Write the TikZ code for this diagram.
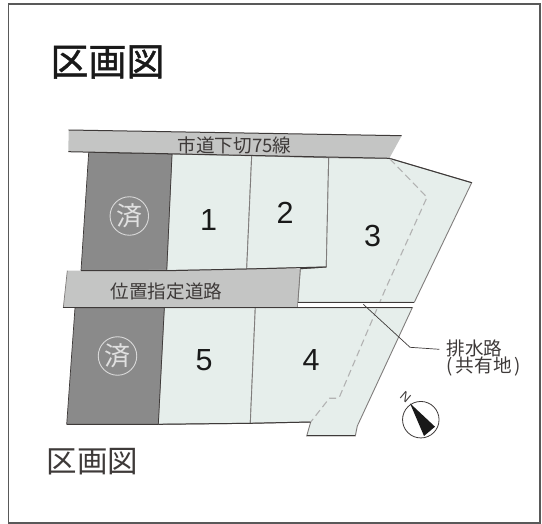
\documentclass[tikz,border=0pt]{standalone}
\usepackage{fontspec}
\setmainfont{Liberation Sans}
\newfontfamily\jp{Noto Sans CJK JP}
\newfontfamily\jpb[FakeBold=1.1]{Noto Sans CJK JP}
\definecolor{lotc}{HTML}{E6EEEB}
\definecolor{roadc}{HTML}{C4C5C4}
\definecolor{soldc}{HTML}{8A8A8A}
\definecolor{edgec}{HTML}{3E3A39}
\definecolor{midc}{HTML}{807D7C}
\tikzset{
 lot/.style={fill=lotc,draw=midc,line width=0.9pt,line join=miter},
 sold/.style={fill=soldc,draw=edgec,line width=0.7pt},
 road/.style={fill=roadc,draw=none},
 edge/.style={draw=edgec,line width=1pt},
 num/.style={font=\fontsize{30.5}{30.5}\selectfont,text=black!90,inner sep=0pt},
 lbl/.style={font=\jp\fontsize{18.6}{20}\selectfont,text=edgec,inner sep=0pt},
 seal/.style={circle,draw=black!15,line width=0.9pt,minimum size=38.5pt,inner sep=0pt,text=black!12,font=\jp\fontsize{26}{26}\selectfont},
}
\begin{document}
\begin{tikzpicture}[x=1pt,y=-1pt]
\useasboundingbox (0,0) rectangle (542,524);
\fill[white] (0,0) rectangle (542,524);
\draw[black!65,line width=1.4pt] (8.5,4) rectangle (540,523);
% lots
\draw[lot] (172,154) -- (251.7,155.7) -- (246.7,269) -- (166.7,270.7) -- cycle;
\draw[lot] (251.7,155.7) -- (328.7,157.7) -- (326.3,267) -- (246.7,269) -- cycle;
\draw[lot] (328.7,157.7) -- (389.3,158.3) -- (471.7,182.7) -- (414.3,302.3) -- (297.7,302.3) -- (300.3,268.7) -- (326.3,267) -- cycle;
\draw[lot] (164.3,307.7) -- (255.3,307.7) -- (250.3,423.3) -- (158.3,424.3) -- cycle;
\draw[lot] (255.3,307.7) -- (412.3,307.7) -- (357.3,426) -- (355.3,436) -- (306.7,436) -- (310.7,422) -- (250.3,423.3) -- cycle;
% sold
\draw[sold] (88.7,152.3) -- (172,154) -- (166.7,270.7) -- (81,270.7) -- cycle;
\draw[sold] (75,307.7) -- (164.3,307.7) -- (158.3,424.3) -- (66.7,424.3) -- cycle;
% roads
\fill[road] (68.7,130) -- (401.7,135.7) -- (389.3,158.3) -- (68.3,151.7) -- cycle;
\draw[edge] (68.7,130) -- (401.7,135.7);
\draw[edge] (68.3,151.7) -- (389.3,158.3);
\fill[road] (67.3,270.7) -- (300.3,268.7) -- (297.3,307.7) -- (63.3,307.7) -- cycle;
\draw[midc,line width=0.7pt] (67.3,270.7) -- (63.3,307.7);
\draw[edge] (81,270.7) -- (166.7,270.7) -- (246.7,269) -- (326.3,267) -- (300.3,268.7);
\draw[midc,line width=0.9pt] (300.3,268.7) -- (297.5,307.7);
\draw[edge] (389.3,158.3) -- (471.7,182.7);
\draw[edge] (306.7,436) -- (355.3,436);
\draw[edge] (158.3,424.3) -- (66.7,424.3);
\draw[edge] (310.7,422) -- (250.3,423.3) -- (158.3,424.3);
% dashed boundary
\draw[black!30,line width=1.1pt,dash pattern=on 7pt off 4pt] (390,159) -- (427,197.3) -- (385,290) -- (339.3,397.3) -- (337.3,398.3) -- (329.3,398.3) -- (310.7,422);
% white drain
\fill[white] (298.2,302.3) -- (414,302.3) -- (411.5,307.7) -- (297.8,307.7) -- cycle;
\draw[edge] (63.3,307.7) -- (412.3,307.7);
\draw[edge] (297.7,302.3) -- (414.3,302.3);
% leader
\coordinate (la) at (363.3,304.3);
\coordinate (lb) at (410,347.3);
\coordinate (lc) at (439.3,349.3);
\draw[edgec,line width=0.7pt] (la) -- (lb) -- (lc);
% text
\node[anchor=center,font=\jpb\fontsize{38}{38}\selectfont,text=black!90,inner sep=0pt] (t1) at (107.5,62) {区画図};
\node[anchor=center,font=\jp\fontsize{30.5}{30.5}\selectfont,text=edgec,inner sep=0pt] (t2) at (92.5,462) {区画図};
\node[lbl] (r1) at (234.5,145) {市道下切75線};
\node[lbl] (r2) at (166.5,291) {位置指定道路};
\node[num] (n1) at (208.7,220) {1};
\node[num] (n2) at (285,213) {2};
\node[num] (n3) at (372.5,236.5) {3};
\node[num] (n4) at (311,360) {4};
\node[num] (n5) at (204.2,360) {5};
\node[seal] (s1) at (129.3,216) {済};
\node[seal] (s2) at (117.5,356) {済};
\node[lbl,anchor=west] (d1) at (446.5,348) {排水路};
\node[lbl,anchor=west] (d2) at (446.5,367) {(\kern3pt 共有地\kern3pt)};
% compass
\node[circle,draw=edgec,line width=0.8pt,minimum size=36.5pt,inner sep=0pt] (cp) at (420.8,419.7) {};
\fill[black!90] (410,403.3) -- (435,426.7) -- (424,436) -- cycle;
\node[font=\fontsize{13}{13}\selectfont,rotate=-40,text=edgec,inner sep=0pt] (nn) at (405.7,396.7) {N};
\end{tikzpicture}
\end{document}
